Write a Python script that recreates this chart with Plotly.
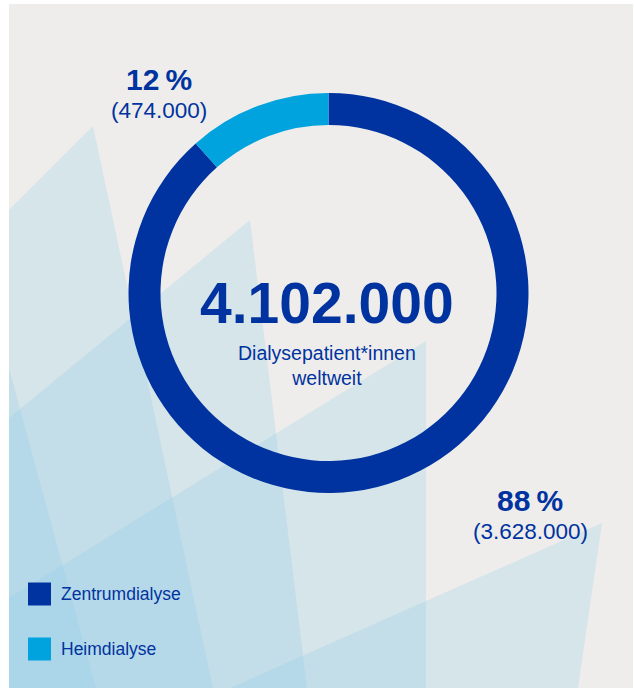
import plotly.graph_objects as go

# ---- data ----
labels = ["Zentrumdialyse", "Heimdialyse"]
values = [3628000, 474000]
colors = ["#0033A0", "#00A3DD"]
center_caption = "Dialysepatient*innen<br>weltweit"

W, H = 634, 688
DARK = "#0033A0"
FONT = "Liberation Sans, Arial, sans-serif"


def de(n):
    return f"{n:,}".replace(",", ".")


def px(x, y):
    return x / W, 1 - y / H


total = sum(values)
pcts = [round(v / total * 100) for v in values]

fig = go.Figure()

# donut
cx, cy, diam = 328.5, 293, 400
fig.add_trace(go.Pie(
    labels=labels, values=values, sort=False, direction="clockwise", rotation=0,
    hole=0.84, marker=dict(colors=colors, line=dict(width=0)),
    textinfo="none", showlegend=False,
    domain=dict(x=[(cx - diam / 2) / W, (cx + diam / 2) / W],
                y=[1 - (cy + diam / 2) / H, 1 - (cy - diam / 2) / H]),
))

shapes = []
# panel background
x0, y0 = px(9, 4)
x1, y1 = px(633, 688)
shapes.append(dict(type="rect", xref="paper", yref="paper", x0=x0, x1=x1, y0=y1, y1=y0,
                   fillcolor="#EEEDEB", line=dict(width=0), layer="below"))

polys = [
    [(93, 126), (9, 210), (9, 688), (213, 688)],
    [(250, 220), (9, 418), (9, 688), (307, 688)],
    [(426, 341), (9, 598), (9, 688), (426, 688)],
    [(602, 523), (578, 688), (230, 688)],
    [(9, 368), (96, 688), (9, 688)],
]
for poly in polys:
    pts = [px(a, b) for a, b in poly]
    path = "M " + " L ".join(f"{a:.5f},{b:.5f}" for a, b in pts) + " Z"
    shapes.append(dict(type="path", xref="paper", yref="paper", path=path,
                       fillcolor="rgba(130,200,230,0.22)", line=dict(width=0), layer="below"))

# legend squares
leg_y = [594, 649]
for c, ly in zip(colors, leg_y):
    a0, b0 = px(28, ly - 11.5)
    a1, b1 = px(51, ly + 11.5)
    shapes.append(dict(type="rect", xref="paper", yref="paper", x0=a0, x1=a1, y0=b1, y1=b0,
                       fillcolor=c, line=dict(width=0), layer="above"))

annotations = []


def ann(text, x, y, size, bold=False, xanchor="center"):
    ax, ay = px(x, y)
    annotations.append(dict(
        text=f"<b>{text}</b>" if bold else text, x=ax, y=ay, xref="paper", yref="paper",
        xanchor=xanchor, yanchor="middle", showarrow=False,
        font=dict(family=FONT, size=size, color=DARK)))


# center
ann(de(total), 327, 303, 57, bold=True)
ann(center_caption, 327, 366, 19.5)

# slice labels
ann(f"{pcts[1]}\u2009%", 159, 80, 30, bold=True)
ann(f"({de(values[1])})", 159, 111, 22.5)
ann(f"{pcts[0]}\u2009%", 530, 500, 30, bold=True)
ann(f"({de(values[0])})", 530, 531, 22.5)

# legend texts
for lab, ly in zip(labels, leg_y):
    ann(lab, 59, ly, 17.5, xanchor="left")

fig.update_layout(
    width=W, height=H, margin=dict(l=0, r=0, t=0, b=0),
    paper_bgcolor="white", plot_bgcolor="white",
    shapes=shapes, annotations=annotations,
)

fig.write_html("out.html", config={"displayModeBar": False},
               post_script="document.body.style.margin='0';")
